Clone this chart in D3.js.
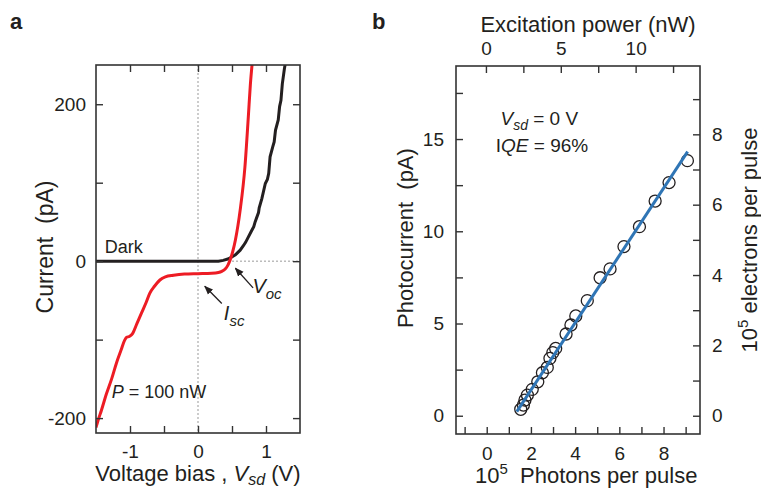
<!DOCTYPE html>
<html>
<head>
<meta charset="utf-8"/>
<title>IV and photocurrent</title>
<script src="https://d3js.org/d3.v7.min.js"></script>
<style>
  body { margin: 0; background: #fff; }
  text { font-family: "Liberation Sans", Arial, sans-serif; fill: #231f20; }
</style>
</head>
<body>
<div id="chart"></div>
<script>
// ---- panel a data: I-V curves ----
var darkV = [-1.5, 0.30, 0.37, 0.45, 0.55, 0.62, 0.67, 0.70, 0.73, 0.79, 0.82, 0.84, 0.89, 0.90, 0.94, 0.99, 1.02, 1.04, 1.06, 1.10, 1.12, 1.14, 1.18, 1.20, 1.22, 1.24, 1.27, 1.29];
var darkI = [0, 0, 1, 3, 8, 14, 20, 24, 29, 39, 44, 50, 62, 68, 80, 99, 104, 112, 133, 146, 152, 167, 180, 197, 205, 226, 245, 255];

var lightV = [-1.5, -1.47, -1.42, -1.35, -1.27, -1.2, -1.13, -1.08, -1.05, -1.01, -0.96, -0.9, -0.83, -0.76, -0.71, -0.64, -0.56, -0.48, -0.36, -0.2, 0, 0.2, 0.3, 0.35, 0.4, 0.44, 0.47, 0.51, 0.55, 0.62, 0.69, 0.74, 0.77, 0.80];
var lightI = [-212, -203, -190, -170, -150, -130, -113, -101, -97, -96, -92, -80, -66, -52, -41, -32, -24, -20, -18, -16.5, -16, -15.5, -14.5, -13, -10, -5, 1, 12, 27, 65, 120, 184, 225, 255];

// ---- panel b data: photocurrent vs photons per pulse ----
var photons = [1.54, 1.66, 1.73, 1.84, 2.06, 2.31, 2.52, 2.74, 2.86, 2.99, 3.12, 3.59, 3.81, 4.03, 4.55, 5.13, 5.58, 6.21, 6.91, 7.62, 8.25, 9.08];
var photocurrent = [0.35, 0.58, 0.85, 1.12, 1.43, 1.84, 2.33, 2.62, 3.11, 3.42, 3.65, 4.43, 4.92, 5.41, 6.24, 7.48, 7.96, 9.17, 10.25, 11.64, 12.64, 13.83];
var fitX = [1.36, 9.09];
var fitY = [0.22, 14.32];

// tick labels
var ivXTicks = [-1, 0, 1];
var ivYTicks = [-200, 0, 200];
var phXTicks = [0, 2, 4, 6, 8];
var phYTicks = [0, 5, 10, 15];
var elTicks = [0, 2, 4, 6, 8];
var pwTicks = [0, 5, 10];

var W = 761, H = 489;
var svg = d3.select("#chart").append("svg")
  .attr("width", W).attr("height", H);

var frameColor = "#333";
var plainFmt = function(d) { return String(d); }; // hyphen minus like the original

function frame(g, w, h) {
  g.append("rect").attr("width", w).attr("height", h)
    .attr("fill", "none").attr("stroke", frameColor).attr("stroke-width", 1.6);
}

function styleAxis(sel) {
  sel.select(".domain").remove();
  sel.selectAll("line").attr("stroke", frameColor).attr("stroke-width", 1.4);
  sel.selectAll("text").style("font-size", "19px").attr("fill", "#231f20");
}

// ===================== panel a =====================
var a = {left: 96, top: 65, width: 204, height: 368};
var ga = svg.append("g").attr("transform", "translate(" + a.left + "," + a.top + ")");

var xa = d3.scaleLinear().domain([-1.5, 1.5]).range([0, a.width]);
var ya = d3.scaleLinear().domain([-219, 250]).range([a.height, 0]);

// dotted guides
ga.append("line")
  .attr("x1", xa(0)).attr("x2", xa(0)).attr("y1", 0).attr("y2", a.height)
  .attr("stroke", "#999").attr("stroke-width", 1).attr("stroke-dasharray", "2,2");
ga.append("line")
  .attr("x1", xa(0.5)).attr("x2", xa(1.5)).attr("y1", ya(0)).attr("y2", ya(0))
  .attr("stroke", "#999").attr("stroke-width", 1).attr("stroke-dasharray", "2,2");

// curves, clipped to the frame
svg.append("defs").append("clipPath").attr("id", "clipA")
  .append("rect").attr("width", a.width).attr("height", a.height);

var ivLine = d3.line().x(function(d) { return xa(d[0]); }).y(function(d) { return ya(d[1]); });

ga.append("path")
  .datum(d3.zip(darkV, darkI))
  .attr("clip-path", "url(#clipA)")
  .attr("fill", "none").attr("stroke", "#231f20").attr("stroke-width", 3)
  .attr("d", ivLine);

ga.append("path")
  .datum(d3.zip(lightV, lightI))
  .attr("clip-path", "url(#clipA)")
  .attr("fill", "none").attr("stroke", "#ed1c24").attr("stroke-width", 3)
  .attr("d", ivLine.curve(d3.curveMonotoneX));

// axes with inward ticks
ga.append("g").attr("transform", "translate(0," + a.height + ")")
  .call(d3.axisBottom(xa).tickValues(ivXTicks).tickSizeInner(-7).tickSizeOuter(0).tickPadding(12).tickFormat(plainFmt))
  .call(styleAxis);
ga.append("g").attr("transform", "translate(0," + a.height + ")")
  .call(d3.axisBottom(xa).tickValues([-0.5, 0.5]).tickSizeInner(-7).tickSizeOuter(0).tickFormat(""))
  .call(styleAxis);
ga.append("g")
  .call(d3.axisTop(xa).tickValues([-1, -0.5, 0, 0.5, 1]).tickSizeInner(-7).tickSizeOuter(0).tickFormat(""))
  .call(styleAxis);
ga.append("g")
  .call(d3.axisLeft(ya).tickValues(ivYTicks).tickSizeInner(-7).tickSizeOuter(0).tickPadding(10).tickFormat(plainFmt))
  .call(styleAxis);
ga.append("g")
  .call(d3.axisLeft(ya).tickValues([-100, 100]).tickSizeInner(-7).tickSizeOuter(0).tickFormat(""))
  .call(styleAxis);
ga.append("g").attr("transform", "translate(" + a.width + ",0)")
  .call(d3.axisRight(ya).tickValues([-200, -100, 0, 100, 200]).tickSizeInner(-7).tickSizeOuter(0).tickFormat(""))
  .call(styleAxis);

frame(ga, a.width, a.height);

// arrows
svg.select("defs").append("marker")
  .attr("id", "arrow").attr("viewBox", "0 0 10 10").attr("refX", 9).attr("refY", 5)
  .attr("markerWidth", 9).attr("markerHeight", 9).attr("orient", "auto-start-reverse")
  .attr("markerUnits", "userSpaceOnUse")
  .append("path").attr("d", "M0,1 L10,5 L0,9 z").attr("fill", "#231f20");

function arrow(x1, y1, x2, y2) {
  ga.append("line")
    .attr("x1", xa(x1)).attr("y1", ya(y1)).attr("x2", xa(x2)).attr("y2", ya(y2))
    .attr("stroke", "#231f20").attr("stroke-width", 1.3)
    .attr("marker-end", "url(#arrow)");
}
arrow(0.35, -54, 0.10, -32);
arrow(0.81, -34, 0.55, -9);

function subLabel(g, x, y, main, sub, size) {
  var t = g.append("text").attr("x", x).attr("y", y).style("font-size", size + "px");
  t.append("tspan").style("font-style", "italic").text(main);
  t.append("tspan").style("font-style", "italic").style("font-size", (size * 0.75) + "px")
    .attr("dy", size * 0.28).text(sub);
  return t;
}
subLabel(ga, xa(0.38), ya(-75), "I", "sc", 20);
subLabel(ga, xa(0.8), ya(-41), "V", "oc", 20);

ga.append("text").attr("x", xa(-1.37)).attr("y", ya(10))
  .style("font-size", "18px").text("Dark");
var pt = ga.append("text").attr("x", xa(-1.27)).attr("y", ya(-175)).style("font-size", "18px");
pt.append("tspan").style("font-style", "italic").text("P");
pt.append("tspan").text(" = 100 nW");

// axis titles
svg.append("text")
  .attr("transform", "translate(53,247) rotate(-90)")
  .attr("text-anchor", "middle").style("font-size", "23px")
  .text("Current\u00a0\u00a0(pA)");

var xt = svg.append("text").attr("x", a.left + a.width / 2).attr("y", 481)
  .attr("text-anchor", "middle").style("font-size", "22px");
xt.append("tspan").text("Voltage bias , ");
xt.append("tspan").style("font-style", "italic").text("V");
xt.append("tspan").style("font-style", "italic").style("font-size", "16px").attr("dy", 4).text("sd");
xt.append("tspan").attr("dy", -4).text(" (V)");

svg.append("text").attr("x", 10).attr("y", 29)
  .style("font-size", "22px").style("font-weight", "bold").text("a");

// ===================== panel b =====================
var b = {left: 456, top: 66, width: 244, height: 368};
var gb = svg.append("g").attr("transform", "translate(" + b.left + "," + b.top + ")");

var xb = d3.scaleLinear().domain([-1.39, 9.65]).range([0, b.width]);
var yb = d3.scaleLinear().domain([-0.99, 18.96]).range([b.height, 0]);
var ratio = 1.907; // pA per 1e5 electrons
var ye = d3.scaleLinear().domain([-0.99 / ratio, 18.96 / ratio]).range([b.height, 0]);
var xp = d3.scaleLinear().domain([-2.0, 14.3]).range([0, b.width]);

gb.append("g").attr("transform", "translate(0," + b.height + ")")
  .call(d3.axisBottom(xb).tickValues(phXTicks).tickSizeInner(-7).tickSizeOuter(0).tickPadding(13))
  .call(styleAxis);
gb.append("g").attr("transform", "translate(0," + b.height + ")")
  .call(d3.axisBottom(xb).tickValues([-1, 1, 3, 5, 7, 9]).tickSizeInner(-7).tickSizeOuter(0).tickFormat(""))
  .call(styleAxis);
gb.append("g")
  .call(d3.axisTop(xp).tickValues(pwTicks).tickSizeInner(-7).tickSizeOuter(0).tickPadding(11))
  .call(styleAxis);
gb.append("g")
  .call(d3.axisTop(xp).tickValues([2.5, 7.5, 12.5]).tickSizeInner(-7).tickSizeOuter(0).tickFormat(""))
  .call(styleAxis);
gb.append("g")
  .call(d3.axisLeft(yb).tickValues(phYTicks).tickSizeInner(-7).tickSizeOuter(0).tickPadding(12))
  .call(styleAxis);
gb.append("g")
  .call(d3.axisLeft(yb).tickValues([2.5, 7.5, 12.5, 17.5]).tickSizeInner(-7).tickSizeOuter(0).tickFormat(""))
  .call(styleAxis);
gb.append("g").attr("transform", "translate(" + b.width + ",0)")
  .call(d3.axisRight(ye).tickValues(elTicks).tickSizeInner(-7).tickSizeOuter(0).tickPadding(12))
  .call(styleAxis);
gb.append("g").attr("transform", "translate(" + b.width + ",0)")
  .call(d3.axisRight(ye).tickValues([1, 3, 5, 7, 9]).tickSizeInner(-7).tickSizeOuter(0).tickFormat(""))
  .call(styleAxis);

frame(gb, b.width, b.height);

// data circles
gb.selectAll("circle.pt")
  .data(d3.zip(photons, photocurrent))
  .join("circle").attr("class", "pt")
  .attr("cx", function(d) { return xb(d[0]); })
  .attr("cy", function(d) { return yb(d[1]); })
  .attr("r", 6)
  .attr("fill", "none").attr("stroke", "#231f20").attr("stroke-width", 1.3);

// linear fit
gb.append("path")
  .datum(d3.zip(fitX, fitY))
  .attr("fill", "none").attr("stroke", "#2f75b5").attr("stroke-width", 3)
  .attr("d", d3.line().x(function(d) { return xb(d[0]); }).y(function(d) { return yb(d[1]); }));

// annotation
var vt = gb.append("text").attr("x", xb(2.38)).attr("y", yb(15.77))
  .attr("text-anchor", "middle").style("font-size", "19px");
vt.append("tspan").style("font-style", "italic").text("V");
vt.append("tspan").style("font-style", "italic").style("font-size", "14px").attr("dy", 5).text("sd");
vt.append("tspan").attr("dy", -5).text(" = 0 V");
var qt = gb.append("text").attr("x", xb(2.5)).attr("y", yb(14.3))
  .attr("text-anchor", "middle").style("font-size", "19px");
qt.append("tspan").text("I");
qt.append("tspan").style("font-style", "italic").text("QE");
qt.append("tspan").text(" = 96%");

// titles
svg.append("text").attr("x", 588).attr("y", 32)
  .attr("text-anchor", "middle").style("font-size", "22px").text("Excitation power (nW)");

var bt = svg.append("text").attr("x", 475).attr("y", 483).style("font-size", "22px");
bt.append("tspan").text("10");
bt.append("tspan").style("font-size", "15px").attr("dy", -9).text("5");
bt.append("tspan").attr("dy", 9).text("\u00a0\u00a0Photons per pulse");

svg.append("text")
  .attr("transform", "translate(413,238) rotate(-90)")
  .attr("text-anchor", "middle").style("font-size", "22px")
  .text("Photocurrent\u00a0\u00a0(pA)");

var rt = svg.append("text")
  .attr("transform", "translate(757,240) rotate(-90)")
  .attr("text-anchor", "middle").style("font-size", "22px");
rt.append("tspan").text("10");
rt.append("tspan").style("font-size", "15px").attr("dy", -9).text("5");
rt.append("tspan").attr("dy", 9).text(" electrons per pulse");

svg.append("text").attr("x", 372).attr("y", 29)
  .style("font-size", "22px").style("font-weight", "bold").text("b");
</script>
</body>
</html>
